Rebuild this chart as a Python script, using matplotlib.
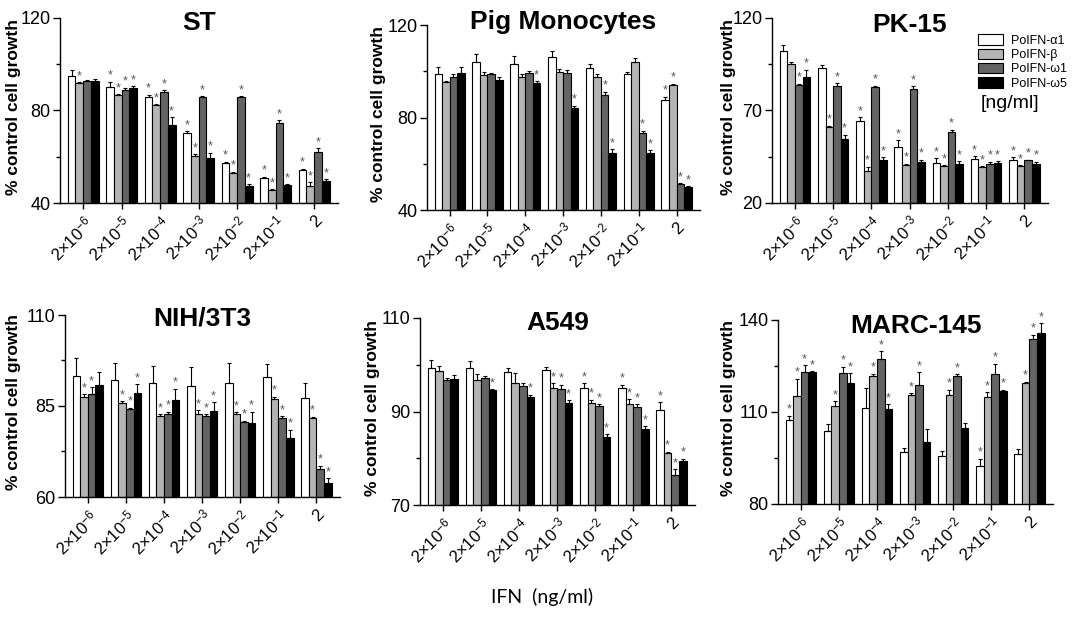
import numpy as np
import matplotlib
matplotlib.use('Agg')
import matplotlib.pyplot as plt
from matplotlib.patches import Patch

plt.rcParams['font.family'] = ['Liberation Sans', 'DejaVu Sans']
plt.rcParams['mathtext.default'] = 'regular'

# data: 7 doses x 4 interferons (a1, b, w1, w5)
doses = [r'$2{\times}10^{-6}$', r'$2{\times}10^{-5}$', r'$2{\times}10^{-4}$',
         r'$2{\times}10^{-3}$', r'$2{\times}10^{-2}$', r'$2{\times}10^{-1}$', '2']
series = ['PoIFN-α1', 'PoIFN-β', 'PoIFN-ω1', 'PoIFN-ω5']
colors = ['white', '#b4b4b4', '#646464', 'black']

st_means = [[95.0, 91.8, 92.9, 92.8], [90.0, 86.6, 88.9, 89.6], [85.7, 82.2, 88.2, 73.7],
            [70.1, 60.5, 85.7, 59.5], [57.3, 53.0, 85.7, 47.2], [50.8, 45.5, 74.8, 47.6],
            [54.2, 47.2, 62.0, 49.4]]
st_err = [[2.3, 0.5, 0.5, 0.7], [2.5, 0.5, 1.0, 1.0], [1.2, 0.5, 0.5, 3.3], [1.0, 0.7, 0.5, 2.3],
          [0.5, 0.5, 0.5, 1.0], [0.5, 0.5, 1.0, 0.5], [0.7, 1.7, 1.7, 1.0]]
st_star = [[0, 1, 0, 0], [1, 1, 1, 1], [1, 1, 1, 1], [1, 1, 1, 1], [1, 1, 1, 1], [1, 1, 1, 1], [1, 1, 1, 1]]

pig_means = [[98.8, 95.5, 97.4, 99.1], [103.9, 98.4, 98.7, 96.2], [103.1, 97.7, 99.4, 95.1],
             [106.0, 99.5, 99.4, 84.3], [101.3, 97.4, 89.7, 64.5], [98.8, 103.9, 73.2, 64.8],
             [87.6, 94.1, 51.2, 49.8]]
pig_err = [[2.9, 0.5, 1.2, 2.9], [3.6, 1.3, 0.5, 1.5], [3.5, 1.0, 0.5, 0.7], [2.8, 1.5, 1.0, 0.7],
           [1.8, 1.5, 1.5, 1.8], [1.0, 2.0, 1.0, 1.0], [1.3, 0.5, 0.5, 0.5]]
pig_star = [[0, 0, 0, 0], [0, 0, 0, 0], [0, 0, 0, 1], [0, 0, 0, 1], [0, 0, 1, 1], [0, 0, 1, 1], [1, 1, 1, 1]]

pk_means = [[101.9, 95.2, 83.7, 88.0], [92.9, 60.9, 83.3, 54.4], [64.5, 37.4, 82.6, 43.2],
            [50.4, 40.5, 81.5, 42.2], [41.7, 39.9, 58.5, 41.3], [44.0, 39.5, 41.2, 41.5],
            [43.0, 39.9, 43.0, 41.2]]
pk_err = [[3.6, 0.8, 0.8, 4.0], [1.5, 0.8, 1.5, 2.5], [2.0, 2.2, 0.8, 1.5], [3.6, 0.8, 1.5, 1.2],
          [2.5, 0.5, 1.0, 1.2], [1.2, 0.5, 1.0, 1.2], [1.8, 0.5, 0.5, 1.2]]
pk_star = [[0, 0, 1, 1], [0, 1, 1, 1], [1, 1, 1, 1], [1, 1, 1, 1], [1, 1, 1, 1], [1, 1, 1, 1], [1, 1, 1, 1]]

nih_means = [[93.2, 87.5, 88.2, 90.7], [92.1, 85.9, 84.1, 88.6], [91.2, 82.2, 82.8, 86.6],
             [90.5, 82.7, 82.2, 83.6], [91.4, 82.9, 80.6, 80.2], [93.0, 86.9, 81.6, 76.1],
             [87.2, 81.7, 67.8, 63.9]]
nih_err = [[5.1, 0.8, 1.9, 3.7], [4.6, 0.4, 0.4, 2.4], [4.8, 0.6, 0.6, 3.2], [5.1, 1.2, 0.5, 2.5],
           [5.5, 0.4, 0.4, 3.2], [3.5, 0.6, 0.6, 2.4], [4.2, 0.4, 0.8, 1.3]]
nih_star = [[0, 1, 1, 0], [0, 1, 1, 1], [0, 1, 1, 1], [0, 1, 1, 1], [0, 1, 1, 1], [0, 1, 1, 1], [0, 1, 1, 1]]

a549_means = [[99.4, 98.6, 96.7, 96.9], [99.2, 96.7, 97.1, 94.5], [98.4, 96.2, 95.5, 93.0],
              [98.9, 95.0, 94.9, 91.8], [95.0, 91.9, 91.2, 84.5], [95.0, 91.6, 90.9, 86.3],
              [90.4, 81.1, 76.5, 79.5]]
a549_err = [[1.6, 1.2, 0.5, 1.0], [1.7, 1.3, 0.4, 0.3], [1.0, 2.0, 0.6, 0.6], [0.6, 1.0, 0.8, 0.6],
            [1.0, 0.6, 0.3, 0.7], [0.7, 1.0, 0.7, 0.5], [1.6, 0.3, 1.2, 0.4]]
a549_star = [[0, 0, 0, 0], [0, 0, 0, 1], [0, 0, 0, 1], [0, 1, 1, 1], [1, 1, 1, 1], [1, 1, 1, 1], [1, 1, 1, 1]]

marc_means = [[107.3, 115.1, 123.0, 123.0], [103.7, 112.1, 122.8, 119.5], [111.3, 121.9, 127.3, 111.1],
              [96.9, 115.6, 118.9, 100.1], [95.8, 115.4, 121.7, 104.8], [92.4, 114.9, 122.4, 116.7],
              [96.4, 119.5, 133.7, 135.9]]
marc_err = [[1.5, 5.7, 2.3, 0.3], [2.4, 1.5, 2.0, 3.1], [6.6, 0.6, 2.5, 1.5], [1.5, 0.6, 4.1, 4.3],
            [1.5, 1.8, 0.7, 1.5], [2.4, 1.5, 3.3, 0.5], [1.5, 0.4, 1.5, 3.0]]
marc_star = [[1, 1, 1, 1], [0, 1, 1, 1], [0, 1, 1, 1], [0, 1, 1, 0], [0, 1, 1, 0], [1, 1, 1, 1], [0, 1, 1, 1]]

W, H = 1084, 617
fig = plt.figure(figsize=(W / 100, H / 100), dpi=100)


def panel(box, label_x, title, title_y, means, err, star, ylim):
    x0, y0, x1, y1 = box
    ax = fig.add_axes([x0 / W, 1 - y1 / H, (x1 - x0) / W, (y1 - y0) / H])
    means = np.array(means)
    err = np.array(err)
    x = np.arange(len(doses))
    w = 0.2
    for i in range(4):
        xi = x + (i - 1.5) * w
        ax.bar(xi, means[:, i] - ylim[0], w, bottom=ylim[0], color=colors[i],
               edgecolor='black', linewidth=0.8)
        ax.errorbar(xi, means[:, i], yerr=[np.zeros(len(x)), err[:, i]], fmt='none',
                    ecolor='black', elinewidth=0.8, capsize=1.5, capthick=0.8)
        for j in range(len(x)):
            if star[j][i]:
                ax.annotate('*', (xi[j], means[j, i] + err[j, i]), xytext=(0, 0),
                            textcoords='offset points', ha='center', va='bottom',
                            fontsize=9, color='#555555')
    lo, hi = ylim
    ax.set_ylim(lo, hi)
    ax.set_xlim(-0.6, 6.62)
    ax.set_yticks([lo, (lo + hi) / 2, hi])
    ax.set_yticks([lo + (hi - lo) / 4, lo + 3 * (hi - lo) / 4], minor=True)
    ax.set_xticks(x)
    ax.set_xticklabels(doses, rotation=45, ha='right', va='top', rotation_mode='anchor')
    ax.tick_params(axis='y', labelsize=13, length=5, width=1, pad=2)
    ax.tick_params(axis='y', which='minor', length=3, width=1)
    ax.tick_params(axis='x', labelsize=12, length=4, width=1, pad=3)
    for s in ['top', 'right']:
        ax.spines[s].set_visible(False)
    for s in ['left', 'bottom']:
        ax.spines[s].set_linewidth(1)
    ax.set_ylabel('% control cell growth', fontsize=12.5, fontweight='bold', va='center')
    ax.yaxis.set_label_coords((label_x - x0) / (x1 - x0), 0.52)
    ax.text(0.5, title_y, title, transform=ax.transAxes, ha='center', va='baseline',
            fontsize=19, fontweight='bold')
    return ax


panel((60, 18, 338, 203), 14, 'ST', 0.935, st_means, st_err, st_star, (40, 120))
panel((427, 25, 700, 210), 378, 'Pig Monocytes', 0.98, pig_means, pig_err, pig_star, (40, 120))
panel((772, 18, 1048, 203), 728, 'PK-15', 0.925, pk_means, pk_err, pk_star, (20, 120))
panel((65, 315, 340, 497), 14, 'NIH/3T3', 0.94, nih_means, nih_err, nih_star, (60, 110))
panel((420, 318, 695, 505), 372, 'A549', 0.935, a549_means, a549_err, a549_star, (70, 110))
panel((778, 320, 1053, 504), 729, 'MARC-145', 0.93, marc_means, marc_err, marc_star, (80, 140))

handles = [Patch(facecolor=c, edgecolor='black', linewidth=0.8) for c in colors]
fig.legend(handles, series, loc='upper left', bbox_to_anchor=(972 / W, 1 - 28 / H),
           frameon=False, fontsize=9, handlelength=2.0, handleheight=0.9,
           labelspacing=0.15, handletextpad=0.6, borderpad=0)
fig.text(981 / W, 1 - 103 / H, '[ng/ml]', fontsize=14, va='center', ha='left')

fig.text(542 / W, 1 - 597 / H, 'IFN  (ng/ml)', fontsize=14, ha='center', va='center',
         family=['Lato', 'DejaVu Sans'])

fig.savefig('out.png', dpi=100)
